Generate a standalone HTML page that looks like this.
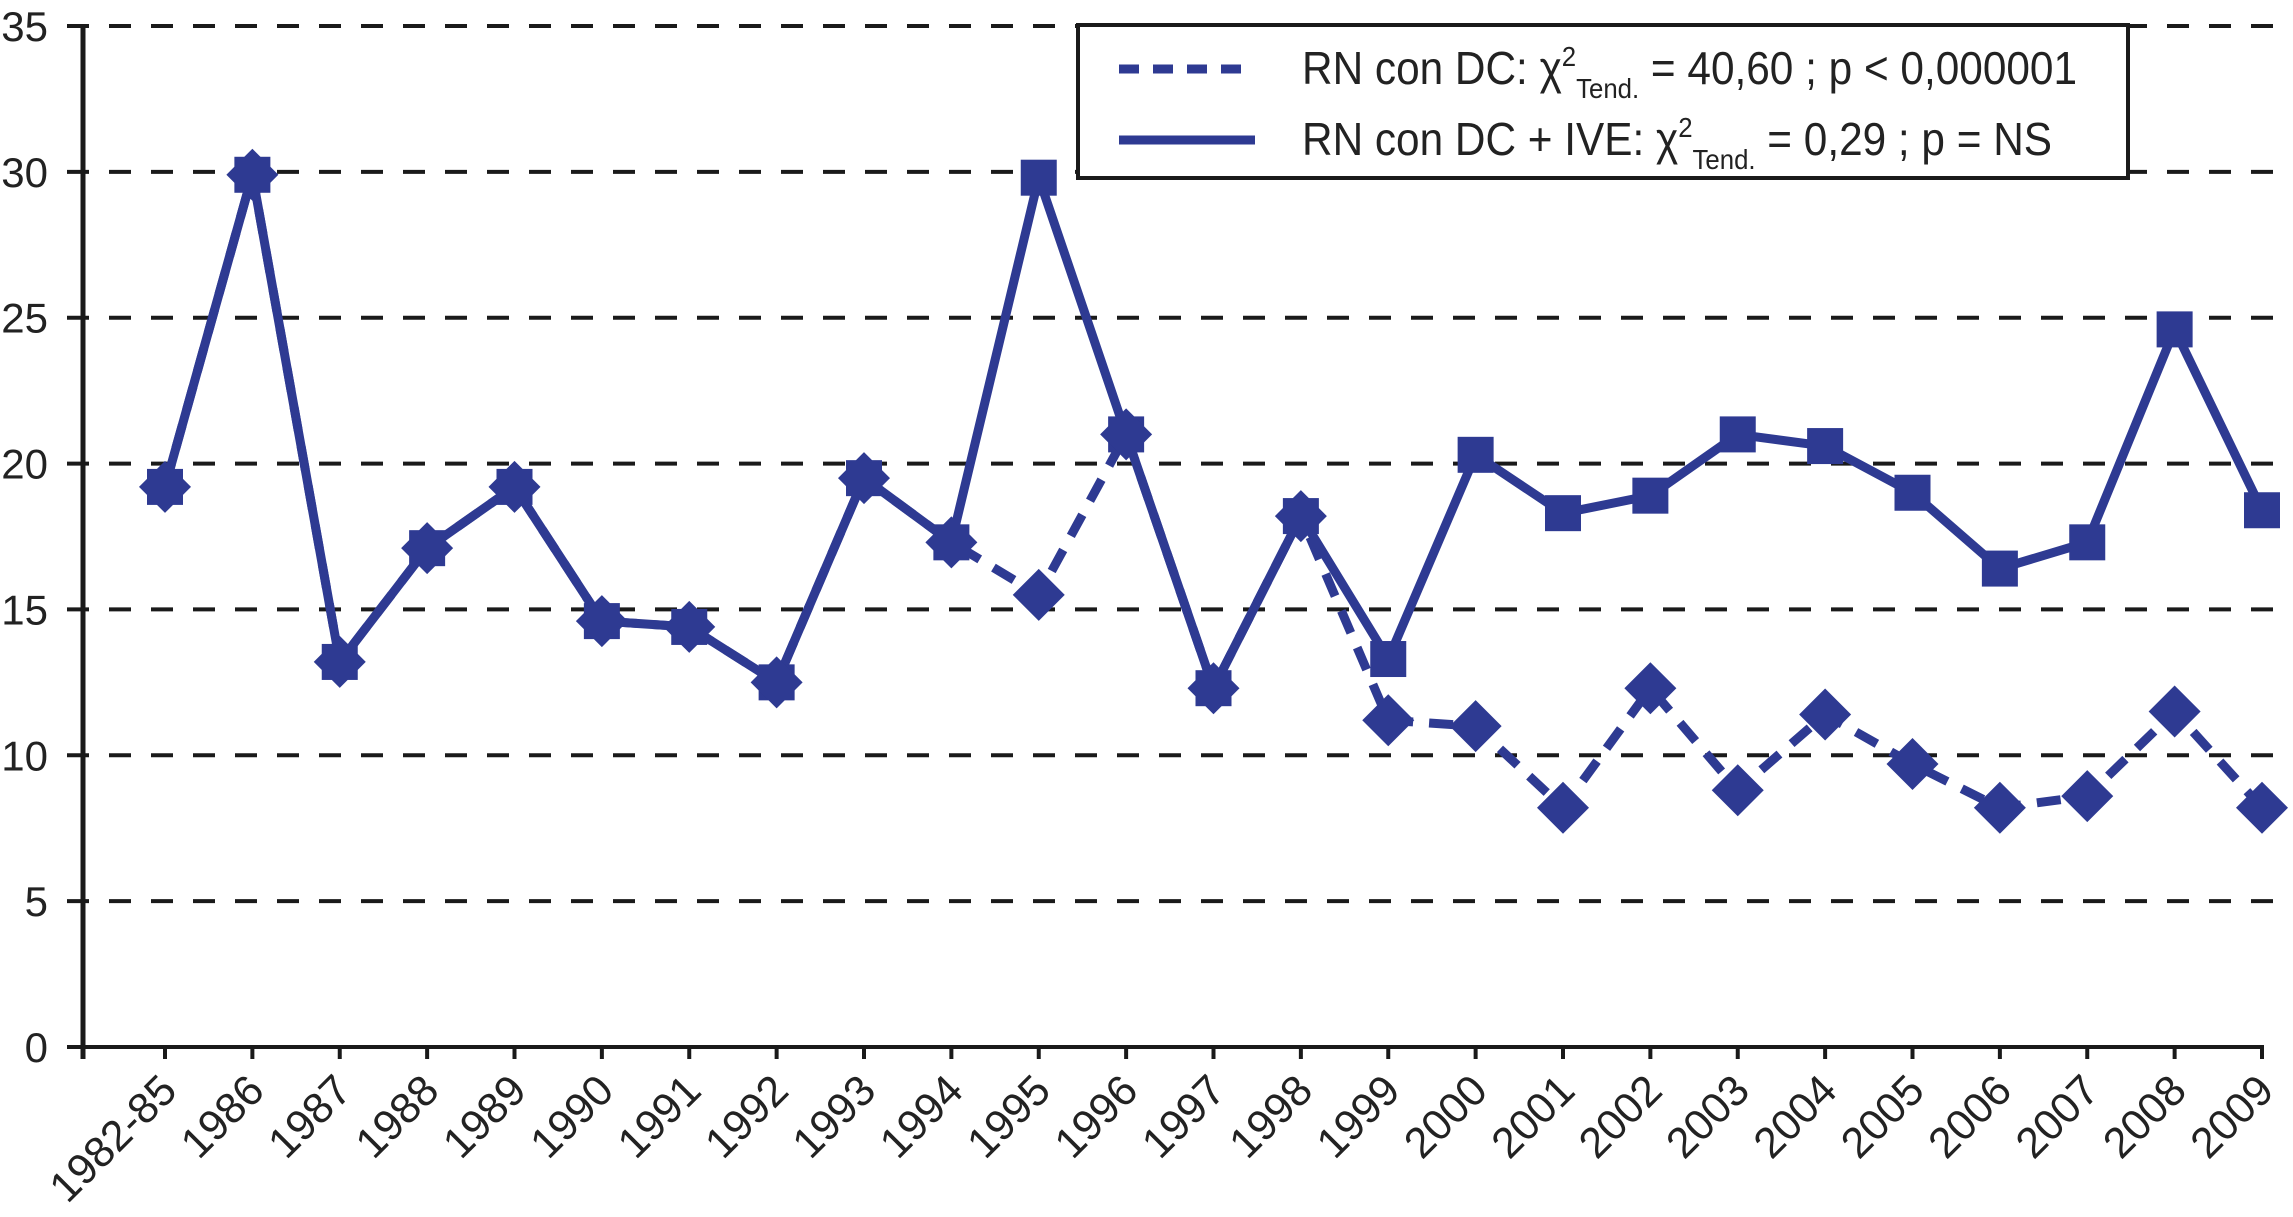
<!DOCTYPE html>
<html><head><meta charset="utf-8"><style>
body{margin:0;background:#fff}
svg{display:block}
text{font-family:"Liberation Sans",sans-serif;fill:#222}
</style></head><body>
<svg id="chart" width="2293" height="1217" viewBox="0 0 2293 1217" xmlns="http://www.w3.org/2000/svg">
<g id="grid"></g>
<g id="axes"></g>
<g id="series"></g>
<g>
  <rect x="1078" y="25" width="1050" height="153" fill="#fff" stroke="#1a1a1a" stroke-width="4"/>
  <line x1="1119" y1="69" x2="1255" y2="69" stroke="#2e3a92" stroke-width="9" stroke-dasharray="20,14"/>
  <line x1="1119" y1="140" x2="1255" y2="140" stroke="#2e3a92" stroke-width="9"/>
  <text x="1302" y="84" font-size="46" textLength="775" lengthAdjust="spacingAndGlyphs">RN con DC: χ<tspan font-size="28" dy="-18">2</tspan><tspan font-size="28" dy="32">Tend.</tspan><tspan dy="-14"> = 40,60 ; p &lt; 0,000001</tspan></text>
  <text x="1302" y="155" font-size="46" textLength="750" lengthAdjust="spacingAndGlyphs">RN con DC + IVE: χ<tspan font-size="28" dy="-18">2</tspan><tspan font-size="28" dy="32">Tend.</tspan><tspan dy="-14"> = 0,29 ; p = NS</tspan></text>
</g>
</svg>
<script>
const categories=["1982-85","1986","1987","1988","1989","1990","1991","1992","1993","1994","1995","1996","1997","1998","1999","2000","2001","2002","2003","2004","2005","2006","2007","2008","2009"];
const dcIve=[19.2,29.9,13.2,17.1,19.2,14.6,14.4,12.5,19.5,17.3,29.8,21.0,12.3,18.2,13.3,20.3,18.3,18.9,21.0,20.6,19.0,16.4,17.3,24.6,18.4];
const dc=[19.2,29.9,13.2,17.1,19.2,14.6,14.4,12.5,19.5,17.3,15.5,21.0,12.3,18.2,11.2,11.0,8.2,12.3,8.8,11.4,9.7,8.2,8.6,11.5,8.2];
const yTicks=[0,5,10,15,20,25,30,35];
const NS="http://www.w3.org/2000/svg";
const x0=83,xFirst=165,xLast=2262,y0=1047,yTop=26,ymax=35;
const step=(xLast-xFirst)/(categories.length-1);
const X=i=>xFirst+i*step;
const Y=v=>y0-(v/ymax)*(y0-yTop);
function mk(tag,attrs,parent){const e=document.createElementNS(NS,tag);for(const k in attrs)e.setAttribute(k,attrs[k]);parent.appendChild(e);return e;}
const grid=document.getElementById('grid'),axes=document.getElementById('axes'),series=document.getElementById('series');
yTicks.forEach(t=>{
  if(t>0){const l=mk('line',{x1:67,y1:Y(t),x2:2293,y2:Y(t),stroke:'#1a1a1a','stroke-width':4,'stroke-dasharray':'22,20'},grid);
  
  }
  const tx=mk('text',{x:48,y:Y(t)+15,'font-size':42,'text-anchor':'end'},axes);tx.textContent=t;
  
  
});
const ya=mk('line',{x1:x0,y1:yTop,x2:x0,y2:y0+12,stroke:'#1a1a1a','stroke-width':5},axes);


const xa=mk('line',{x1:67,y1:y0,x2:xLast+2,y2:y0,stroke:'#1a1a1a','stroke-width':4},axes);


categories.forEach((c,i)=>{
  const tk=mk('line',{x1:X(i),y1:y0,x2:X(i),y2:y0+12,stroke:'#1a1a1a','stroke-width':4},axes);
  
  
  const tx=mk('text',{x:X(i)+14,y:y0+46,'font-size':43,'text-anchor':'end',transform:`rotate(-45 ${X(i)+14} ${y0+46})`},axes);tx.textContent=c;
  
  
});
const col='#2e3a92';
const p1=mk('polyline',{points:dc.map((v,i)=>X(i)+','+Y(v)).join(' '),fill:'none',stroke:col,'stroke-width':9,'stroke-dasharray':'24,16'},series);


const p2=mk('polyline',{points:dcIve.map((v,i)=>X(i)+','+Y(v)).join(' '),fill:'none',stroke:col,'stroke-width':9},series);


dcIve.forEach((v,i)=>{
  const r=mk('rect',{x:X(i)-18,y:Y(v)-18,width:36,height:36,fill:col},series);
  
  
});
dc.forEach((v,i)=>{
  const x=X(i),y=Y(v),d=26;
  const p=mk('polygon',{points:`${x},${y-d} ${x+d},${y} ${x},${y+d} ${x-d},${y}`,fill:col},series);
  
  
});
</script>
</body></html>
